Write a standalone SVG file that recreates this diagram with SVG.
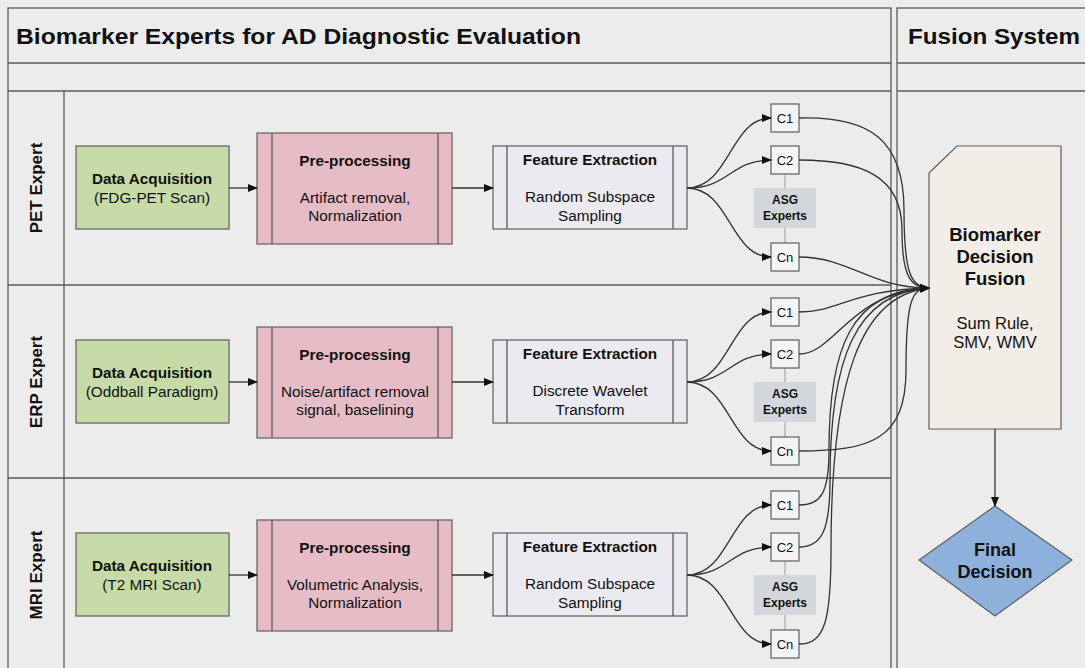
<svg xmlns="http://www.w3.org/2000/svg" width="1085" height="668" viewBox="0 0 1085 668">
<defs>
<marker id="ah" markerWidth="10" markerHeight="8" refX="9" refY="4" orient="auto" markerUnits="userSpaceOnUse">
<path d="M0,0 L10,4 L0,8 Z" fill="#111"/>
</marker>
<style>
.pool{fill:none;stroke:#5a5a5a;stroke-width:1.3}
.ln{stroke:#5a5a5a;stroke-width:1.3;fill:none}
.t{font-family:"Liberation Sans",Arial,sans-serif;fill:#111;text-anchor:middle}
.b{font-weight:bold}
.bx{font-size:15.3px}
.acq{fill:#c6dba8;stroke:#5e5e5e;stroke-width:1.2}
.pre{fill:#e6bcc6;stroke:#5e5e5e;stroke-width:1.2}
.fe{fill:#eaeaf0;stroke:#5e5e5e;stroke-width:1.2}
.c{fill:#f4f4f4;stroke:#5e5e5e;stroke-width:1.2}
.asg{fill:#d3d7db}
.tie{stroke:#999;stroke-width:1}
.cn{fill:none;stroke:#333;stroke-width:1.3;marker-end:url(#ah)}
</style>
</defs>
<rect x="0" y="0" width="1085" height="668" fill="#ececec"/>
<g id="pools">
<rect class="pool" x="8" y="8" width="883" height="700"/>
<line class="ln" x1="8" y1="63" x2="891" y2="63"/>
<line class="ln" x1="8" y1="91" x2="891" y2="91"/>
<line class="ln" x1="64" y1="91" x2="64" y2="668"/>
<line class="ln" x1="8" y1="285" x2="891" y2="285"/>
<line class="ln" x1="8" y1="478" x2="891" y2="478"/>
<text class="t b" x="16" y="44" font-size="22" textLength="565" lengthAdjust="spacingAndGlyphs" style="text-anchor:start">Biomarker Experts for AD Diagnostic Evaluation</text>
<rect class="pool" x="897" y="8" width="200" height="700"/>
<line class="ln" x1="897" y1="63" x2="1085" y2="63"/>
<line class="ln" x1="897" y1="91" x2="1085" y2="91"/>
<text class="t b" x="908" y="44" font-size="22" textLength="172" lengthAdjust="spacingAndGlyphs" style="text-anchor:start">Fusion System</text>
<text class="t b" font-size="17" transform="translate(42,188) rotate(-90)">PET Expert</text>
<text class="t b" font-size="17" transform="translate(42,382) rotate(-90)">ERP Expert</text>
<text class="t b" font-size="17" transform="translate(42,575) rotate(-90)">MRI Expert</text>
</g>

<g id="pet" transform="translate(0,0)">
<g id="pet-acq"><rect class="acq" x="76" y="146" width="153" height="83"/>
<text class="t b bx" x="152" y="184">Data Acquisition</text>
<text class="t bx" x="152" y="203">(FDG-PET Scan)</text></g>
<g id="pet-pre"><rect class="pre" x="257" y="133" width="195" height="111"/>
<line class="ln" x1="272" y1="133" x2="272" y2="244"/><line class="ln" x1="438" y1="133" x2="438" y2="244"/>
<text class="t b bx" x="355" y="166">Pre-processing</text>
<text class="t bx" x="355" y="203">Artifact removal,</text>
<text class="t bx" x="355" y="221">Normalization</text></g>
<g id="pet-fe"><rect class="fe" x="493" y="146" width="194" height="83"/>
<line class="ln" x1="507" y1="146" x2="507" y2="229"/><line class="ln" x1="673" y1="146" x2="673" y2="229"/>
<text class="t b bx" x="590" y="165">Feature Extraction</text>
<text class="t bx" x="590" y="202">Random Subspace</text>
<text class="t bx" x="590" y="221">Sampling</text></g>
<g id="pet-asg"><line class="tie" x1="785" y1="174" x2="785" y2="243"/>
<rect class="asg" x="754" y="188" width="62" height="40"/>
<text class="t b" x="785" y="204" font-size="12">ASG</text>
<text class="t b" x="785" y="220" font-size="12">Experts</text></g>
<g id="pet-c1"><rect class="c" x="771" y="104" width="28" height="28"/><text class="t" x="785" y="122.5" font-size="13">C1</text></g>
<g id="pet-c2"><rect class="c" x="771" y="146" width="28" height="28"/><text class="t" x="785" y="164.5" font-size="13">C2</text></g>
<g id="pet-cn"><rect class="c" x="771" y="243" width="28" height="28"/><text class="t" x="785" y="261.5" font-size="13">Cn</text></g>
</g>

<g id="erp" transform="translate(0,194)">
<g id="erp-acq"><rect class="acq" x="76" y="146" width="153" height="83"/>
<text class="t b bx" x="152" y="184">Data Acquisition</text>
<text class="t bx" x="152" y="203">(Oddball Paradigm)</text></g>
<g id="erp-pre"><rect class="pre" x="257" y="133" width="195" height="111"/>
<line class="ln" x1="272" y1="133" x2="272" y2="244"/><line class="ln" x1="438" y1="133" x2="438" y2="244"/>
<text class="t b bx" x="355" y="166">Pre-processing</text>
<text class="t bx" x="355" y="203">Noise/artifact removal</text>
<text class="t bx" x="355" y="221">signal, baselining</text></g>
<g id="erp-fe"><rect class="fe" x="493" y="146" width="194" height="83"/>
<line class="ln" x1="507" y1="146" x2="507" y2="229"/><line class="ln" x1="673" y1="146" x2="673" y2="229"/>
<text class="t b bx" x="590" y="165">Feature Extraction</text>
<text class="t bx" x="590" y="202">Discrete Wavelet</text>
<text class="t bx" x="590" y="221">Transform</text></g>
<g id="erp-asg"><line class="tie" x1="785" y1="174" x2="785" y2="243"/>
<rect class="asg" x="754" y="188" width="62" height="40"/>
<text class="t b" x="785" y="204" font-size="12">ASG</text>
<text class="t b" x="785" y="220" font-size="12">Experts</text></g>
<g id="erp-c1"><rect class="c" x="771" y="104" width="28" height="28"/><text class="t" x="785" y="122.5" font-size="13">C1</text></g>
<g id="erp-c2"><rect class="c" x="771" y="146" width="28" height="28"/><text class="t" x="785" y="164.5" font-size="13">C2</text></g>
<g id="erp-cn"><rect class="c" x="771" y="243" width="28" height="28"/><text class="t" x="785" y="261.5" font-size="13">Cn</text></g>
</g>

<g id="mri" transform="translate(0,387)">
<g id="mri-acq"><rect class="acq" x="76" y="146" width="153" height="83"/>
<text class="t b bx" x="152" y="184">Data Acquisition</text>
<text class="t bx" x="152" y="203">(T2 MRI Scan)</text></g>
<g id="mri-pre"><rect class="pre" x="257" y="133" width="195" height="111"/>
<line class="ln" x1="272" y1="133" x2="272" y2="244"/><line class="ln" x1="438" y1="133" x2="438" y2="244"/>
<text class="t b bx" x="355" y="166">Pre-processing</text>
<text class="t bx" x="355" y="203">Volumetric Analysis,</text>
<text class="t bx" x="355" y="221">Normalization</text></g>
<g id="mri-fe"><rect class="fe" x="493" y="146" width="194" height="83"/>
<line class="ln" x1="507" y1="146" x2="507" y2="229"/><line class="ln" x1="673" y1="146" x2="673" y2="229"/>
<text class="t b bx" x="590" y="165">Feature Extraction</text>
<text class="t bx" x="590" y="202">Random Subspace</text>
<text class="t bx" x="590" y="221">Sampling</text></g>
<g id="mri-asg"><line class="tie" x1="785" y1="174" x2="785" y2="243"/>
<rect class="asg" x="754" y="188" width="62" height="40"/>
<text class="t b" x="785" y="204" font-size="12">ASG</text>
<text class="t b" x="785" y="220" font-size="12">Experts</text></g>
<g id="mri-c1"><rect class="c" x="771" y="104" width="28" height="28"/><text class="t" x="785" y="122.5" font-size="13">C1</text></g>
<g id="mri-c2"><rect class="c" x="771" y="146" width="28" height="28"/><text class="t" x="785" y="164.5" font-size="13">C2</text></g>
<g id="mri-cn"><rect class="c" x="771" y="243" width="28" height="28"/><text class="t" x="785" y="261.5" font-size="13">Cn</text></g>
</g>

<g id="fusion">
<path d="M957,146 L1061,146 L1061,429 L929,429 L929,173 Z" fill="#f2ede6" stroke="#5e5e5e" stroke-width="1.2"/>
<text class="t b" x="995" y="241" font-size="18.5">Biomarker</text>
<text class="t b" x="995" y="263" font-size="18.5">Decision</text>
<text class="t b" x="995" y="285" font-size="18.5">Fusion</text>
<text class="t" x="995" y="329" font-size="16.5">Sum Rule,</text>
<text class="t" x="995" y="348" font-size="16.5">SMV, WMV</text>
</g>
<g id="final">
<path d="M995,506 L1072,560 L995,616 L919,560 Z" fill="#8eb1dc" stroke="#5e5e5e" stroke-width="1.2"/>
<text class="t b" x="995" y="556" font-size="18">Final</text>
<text class="t b" x="995" y="578" font-size="18">Decision</text>
</g>

<g id="connectors">
<g id="lane-flows">
<path class="cn" d="M229,188 L257,188"/>
<path class="cn" d="M452,188 L493,188"/>
<path class="cn" d="M687,188 C730,188 730,118 771,118"/>
<path class="cn" d="M687,188 C730,188 730,160 771,160"/>
<path class="cn" d="M687,188 C730,188 730,257 771,257"/>
<path class="cn" d="M229,382 L257,382"/>
<path class="cn" d="M452,382 L493,382"/>
<path class="cn" d="M687,382 C730,382 730,312 771,312"/>
<path class="cn" d="M687,382 C730,382 730,354 771,354"/>
<path class="cn" d="M687,382 C730,382 730,451 771,451"/>
<path class="cn" d="M229,575 L257,575"/>
<path class="cn" d="M452,575 L493,575"/>
<path class="cn" d="M687,575 C730,575 730,505 771,505"/>
<path class="cn" d="M687,575 C730,575 730,547 771,547"/>
<path class="cn" d="M687,575 C730,575 730,644 771,644"/>
</g>
<g id="to-fusion">
<path class="cn" d="M799,118 C870,116 904,140 904,210 C904,270 910,288 929,288"/>
<path class="cn" d="M799,160 C860,160 902,175 902,230 C902,275 910,288 929,288"/>
<path class="cn" d="M799,257 C850,257 870,288 929,288"/>
<path class="cn" d="M799,312 C840,312 850,290 929,288"/>
<path class="cn" d="M799,354 C835,354 850,292 929,288"/>
<path class="cn" d="M799,451 C870,451 906,440 906,370 C906,300 912,288 929,288"/>
<path class="cn" d="M799,505 C820,505 829,495 829,450 C829,350 850,290 929,288"/>
<path class="cn" d="M799,547 C822,547 830,530 830,480 C830,360 855,292 929,288"/>
<path class="cn" d="M799,644 C825,644 831,620 831,550 C831,380 860,295 929,288"/>
<path class="cn" d="M995,429 L995,506"/>
</g>
</g>
</svg>
